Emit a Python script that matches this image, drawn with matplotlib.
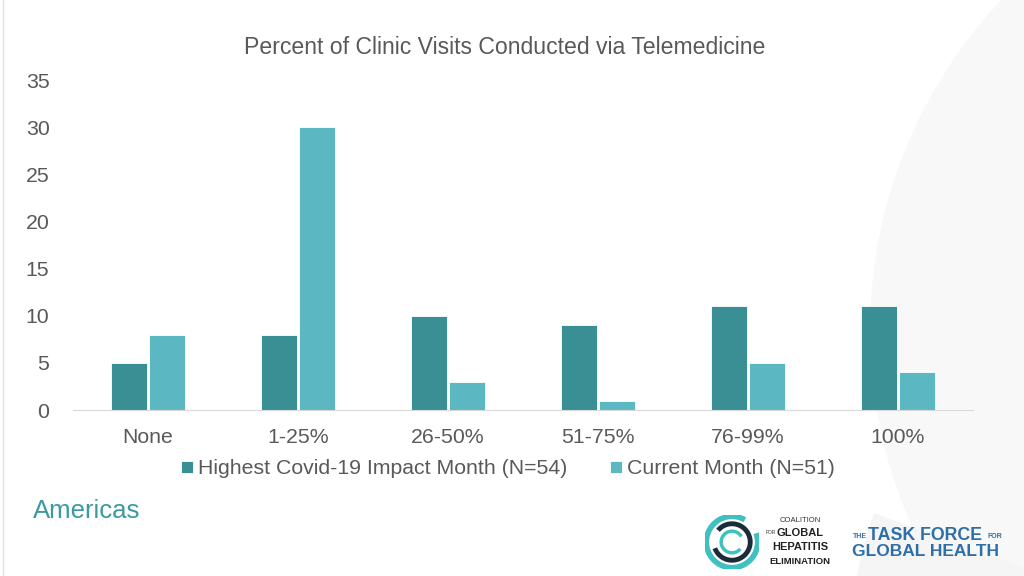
import matplotlib
matplotlib.use("Agg")
import matplotlib.pyplot as plt
from matplotlib.patches import Arc, Wedge
import numpy as np

categories = ["None", "1-25%", "26-50%", "51-75%", "76-99%", "100%"]
highest = [5, 8, 10, 9, 11, 11]
current = [8, 30, 3, 1, 5, 4]
series_names = ["Highest Covid-19 Impact Month (N=54)", "Current Month (N=51)"]
yticks = [0, 5, 10, 15, 20, 25, 30, 35]

dark = "#3a8f95"
light = "#5bb8c2"
txt = "#595959"

plt.rcParams['font.family'] = ['Liberation Sans', 'DejaVu Sans']

fig = plt.figure(figsize=(10.24, 5.76), dpi=100)
fig.patch.set_facecolor("white")

# faint background swooshes on the right
bg = fig.add_axes([0, 0, 1, 1], zorder=-10)
bg.set_xlim(0, 1024); bg.set_ylim(576, 0); bg.axis("off")
bg.add_patch(Wedge((1350, 330), 480, 90, 270, width=300, color="#f8f8f8", lw=0))
bg.add_patch(Wedge((1250, 650), 400, 90, 200, width=200, color="#f5f5f5", lw=0))
bg.plot([3, 3], [0, 576], color="#e3e3e3", lw=1)

ax = fig.add_axes([73/1024, 1-410/576, 900/1024, 330/576])
x = np.arange(len(categories))
w = 0.24
ax.bar(x - w/2 - 0.004, highest, width=w, color=dark, label=series_names[0], edgecolor="white", linewidth=0.6)
ax.bar(x + w/2 + 0.004, current, width=w, color=light, label=series_names[1], edgecolor="white", linewidth=0.6)

ax.set_xlim(-0.5, len(categories) - 0.5)
ax.set_ylim(0, 35)
ax.set_yticks(yticks)
ax.set_xticks(x)
ax.set_xticklabels(categories)
ax.tick_params(axis="both", length=0, labelsize=15.3, labelcolor=txt)
ax.tick_params(axis="y", pad=17)
ax.tick_params(axis="x", pad=13)
for s in ["top", "right", "left"]:
    ax.spines[s].set_visible(False)
ax.spines["bottom"].set_color("#d9d9d9")
ax.set_facecolor("none")

fig.text(505/1024, 1-47/576, "Percent of Clinic Visits Conducted via Telemedicine",
         ha="center", va="center", fontsize=16.6, color=txt)

leg = fig.legend(loc="center", bbox_to_anchor=(508/1024, 1-469/576), ncol=2, frameon=False,
                 fontsize=15.3, handlelength=0.55, handleheight=0.55, handletextpad=0.25,
                 columnspacing=2.0, labelcolor=txt)

fig.text(33/1024, 1-511/576, "Americas", ha="left", va="center", fontsize=18.5, color="#3a9aa0")

# Coalition logo
lg = fig.add_axes([705/1024, 1-570/576, 54/1024, 56/576])
lg.set_xlim(-1, 1); lg.set_ylim(-1, 1); lg.set_aspect("equal"); lg.axis("off")
lg.add_patch(Arc((0, 0), 1.9, 1.9, theta1=60, theta2=380, color="#3fc1c0", lw=4))
lg.add_patch(Arc((0, 0), 1.35, 1.35, theta1=200, theta2=500, color="#1c2b39", lw=3.5))
lg.add_patch(Arc((0, 0), 0.8, 0.8, theta1=30, theta2=320, color="#3fc1c0", lw=2.5))
fig.text(800/1024, 1-520/576, "COALITION", ha="center", va="center", fontsize=5.5, color="#333333")
fig.text(776/1024, 1-533/576, "FOR", ha="right", va="center", fontsize=3.5, color="#333333")
fig.text(800/1024, 1-533/576, "GLOBAL", ha="center", va="center", fontsize=8, color="#222222",
         fontweight="bold")
fig.text(800/1024, 1-547/576, "HEPATITIS", ha="center", va="center", fontsize=8, color="#222222",
         fontweight="bold")
fig.text(800/1024, 1-561/576, "ELIMINATION", ha="center", va="center", fontsize=6.8, color="#222222",
         fontweight="bold")

# Task Force logo
tc = "#2f6fa8"
fig.text(853/1024, 1-537/576, "THE", ha="left", va="center", fontsize=5, color=tc, fontweight="bold")
fig.text(868/1024, 1-535/576, "TASK FORCE", ha="left", va="center", fontsize=12.8, color=tc, fontweight="bold")
fig.text(987/1024, 1-537/576, "FOR", ha="left", va="center", fontsize=5, color=tc, fontweight="bold")
fig.text(926/1024, 1-551/576, "GLOBAL HEALTH", ha="center", va="center", fontsize=12.5, color=tc, fontweight="bold")

fig.savefig("out.png", dpi=100)
